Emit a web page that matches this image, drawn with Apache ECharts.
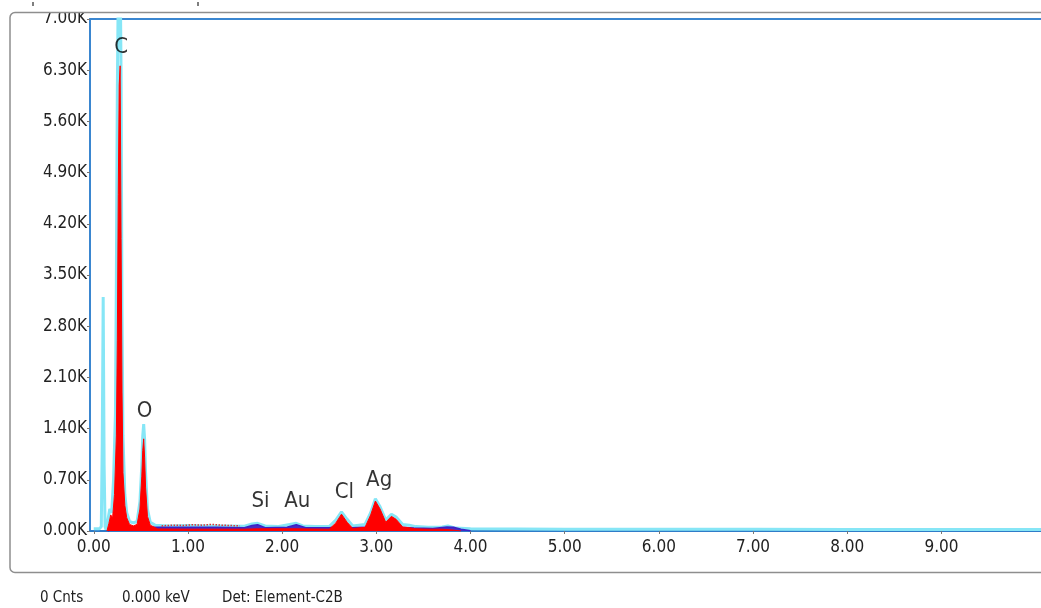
<!DOCTYPE html>
<html>
<head>
<meta charset="utf-8">
<script src="https://cdn.jsdelivr.net/npm/echarts@6/dist/echarts.min.js"></script>
<style>
html,body{margin:0;padding:0;background:#fff;}
#c{width:1041px;height:608px;}
</style>
</head>
<body>
<div id="c"></div>
<script>
// Measured spectrum (cyan outline), keV and counts
const spectrumKeV = [0.00,0.06,0.08,0.09,0.10,0.11,0.12,0.13,0.15,0.17,0.19,0.21,0.23,0.24,0.25,0.26,0.27,0.28,0.29,0.30,0.31,0.33,0.35,0.38,0.42,0.46,0.49,0.51,0.52,0.53,0.54,0.55,0.57,0.60,0.65,0.80,1.00,1.20,1.40,1.60,1.68,1.74,1.82,1.95,2.08,2.15,2.22,2.35,2.50,2.57,2.63,2.69,2.75,2.88,2.94,2.99,3.04,3.10,3.16,3.21,3.28,3.35,3.42,3.55,3.70,3.76,3.84,4.00,4.50,5.00,6.00,7.00,8.00,9.00,10.45];
const spectrumCounts = [30,30,60,1200,3200,900,60,20,150,300,250,700,1600,3500,6000,7400,7900,7800,6200,3000,1300,500,250,130,110,130,400,900,1300,1460,1250,800,300,120,80,70,75,70,70,65,95,105,70,60,90,105,70,60,60,150,260,160,70,90,250,440,330,150,230,190,90,80,60,50,55,70,40,30,28,25,25,25,22,22,20];

// Fitted element peaks (red filled)
const fitKeV = [0.14,0.16,0.18,0.20,0.22,0.24,0.25,0.26,0.27,0.28,0.29,0.30,0.31,0.33,0.35,0.38,0.42,0.46,0.49,0.51,0.52,0.53,0.54,0.55,0.57,0.60,0.68,1.00,1.60,1.75,2.15,2.50,2.57,2.63,2.69,2.75,2.88,2.94,2.99,3.04,3.10,3.16,3.21,3.28,3.35,3.42,3.55,3.70,3.80,3.90];
const fitCounts = [0,100,220,180,500,1300,2600,4600,6100,6360,4000,1900,800,350,180,90,70,90,300,750,1100,1260,1000,600,200,80,28,25,25,30,30,25,110,230,120,35,50,220,410,300,120,200,160,55,45,30,25,25,15,0];

// Background (dark blue)
const bgKeV = [0.15,0.20,0.30,0.50,0.70,1.00,1.30,1.60,1.68,1.74,1.82,2.05,2.15,2.25,2.50,2.60,2.66,2.75,2.90,2.99,3.08,3.16,3.25,3.40,3.60,3.75,3.82,3.90,4.00];
const bgCounts = [0,30,45,50,50,50,50,45,75,85,45,50,85,45,45,60,55,45,55,85,60,70,50,40,35,55,50,25,5];

// Residual dots (red dotted)
const residKeV = [0.72,0.85,0.95,1.05,1.15,1.25,1.35,1.45,1.55];
const residCounts = [70,80,75,85,80,90,80,75,70];

// Element labels
const elementNames = ['C','O','Si','Au','Cl','Ag'];
const elementKeV = [0.29,0.54,1.77,2.16,2.66,3.03];
const elementLabelY = [6620,1640,410,410,530,700];

// Axis setup
const xTickValues = [0,1,2,3,4,5,6,7,8,9];
const yMin = 0, yMax = 7000, yStep = 700;
const xMin = -0.04, xMax = 10.45;

const zip = (a,b) => a.map((v,i)=>[v,b[i]]);
const FONT = "'DejaVu Sans Condensed','Liberation Sans',sans-serif";

const chart = echarts.init(document.getElementById('c'), null, {renderer:'canvas'});
chart.setOption({
  animation:false,
  backgroundColor:'#fff',
  grid:{left:90,top:19,width:988,height:512,show:false,containLabel:false,outerBoundsMode:'none'},
  xAxis:[{
    type:'value',min:xMin,max:xMax,position:'bottom',
    axisLine:{show:true,onZero:false,lineStyle:{color:'#2f7cc8',width:2}},
    axisTick:{show:true,length:3,customValues:xTickValues,lineStyle:{color:'#777'}},
    splitLine:{show:false},
    axisLabel:{color:'#222',fontFamily:FONT,fontSize:17,margin:8,customValues:xTickValues,
      formatter:v=> Number(v).toFixed(2)}
  },{
    type:'value',min:xMin,max:xMax,position:'top',
    axisLine:{show:true,onZero:false,lineStyle:{color:'#3a86d0',width:2}},
    axisTick:{show:false},axisLabel:{show:false},splitLine:{show:false}
  }],
  yAxis:{
    type:'value',min:yMin,max:yMax,interval:yStep,position:'left',
    axisLine:{show:true,onZero:false,lineStyle:{color:'#3a86d0',width:2}},
    axisTick:{show:true,length:3,lineStyle:{color:'#777'}},
    splitLine:{show:false},
    axisLabel:{color:'#222',fontFamily:FONT,fontSize:17,margin:3,
      formatter:v=>(v/1000).toFixed(2)+'K'}
  },
  series:[
    {type:'line',data:zip(spectrumKeV,spectrumCounts),symbol:'none',clip:true,z:2,
     lineStyle:{color:'#86e6f6',width:3}},
    {type:'line',data:zip(bgKeV,bgCounts),symbol:'none',z:3,
     lineStyle:{color:'#3a22c8',width:1.5},areaStyle:{color:'#4a2cc0',opacity:1}},
    {type:'line',data:zip(fitKeV,fitCounts),symbol:'none',clip:true,z:4,
     lineStyle:{color:'#ff0000',width:1},areaStyle:{color:'#ff0000',opacity:1}},
    {type:'line',data:zip(residKeV,residCounts),symbol:'none',z:4,
     lineStyle:{color:'#e03030',width:1.5,type:'dotted'}},
    {type:'scatter',data:zip(elementKeV,elementLabelY).map((p,i)=>({value:p,name:elementNames[i]})),
     symbolSize:0,z:5,silent:true,
     label:{show:true,position:'inside',formatter:p=>p.name,color:'#000',fontFamily:FONT,fontSize:22}}
  ],
  graphic:[
    {type:'rect',z:99,shape:{x:30,y:0,width:62,height:12.5},style:{fill:'#fff'}},
    {type:'rect',z:100,shape:{x:10,y:12.5,width:1100,height:560,r:5},style:{fill:'none',stroke:'#8e8e8e',lineWidth:1.5}},
    {type:'line',z:100,shape:{x1:33,y1:2,x2:33,y2:6},style:{stroke:'#555',lineWidth:1.5}},
    {type:'line',z:100,shape:{x1:198,y1:2,x2:198,y2:6},style:{stroke:'#555',lineWidth:1.5}},
    {type:'text',z:100,left:40,top:591,style:{text:'0 Cnts',fill:'#222',font:"15px "+FONT}},
    {type:'text',z:100,left:122,top:591,style:{text:'0.000 keV',fill:'#222',font:"15px "+FONT}},
    {type:'text',z:100,left:222,top:591,style:{text:'Det: Element-C2B',fill:'#222',font:"15px "+FONT}}
  ]
});
</script>
</body>
</html>
